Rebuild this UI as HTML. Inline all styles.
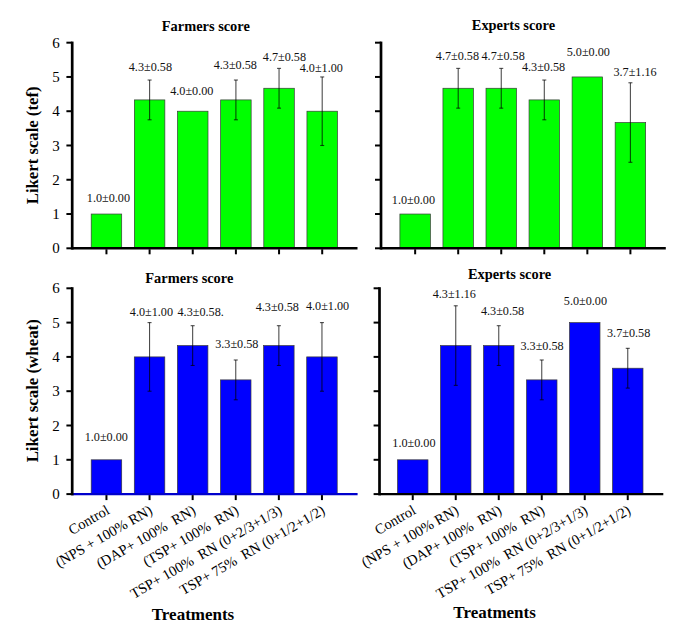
<!DOCTYPE html>
<html><head><meta charset="utf-8"><style>
html,body{margin:0;padding:0;background:#fff;}
svg{display:block;font-family:"Liberation Serif",serif;}
</style></head><body>
<svg width="685" height="635" viewBox="0 0 685 635">
<rect width="685" height="635" fill="#fff"/>
<rect x="91.20" y="214.03" width="30.5" height="34.27" fill="#00ff00" stroke="#3a3a3a" stroke-width="0.7"/>
<rect x="134.35" y="99.91" width="30.5" height="148.39" fill="#00ff00" stroke="#3a3a3a" stroke-width="0.7"/>
<rect x="177.50" y="111.22" width="30.5" height="137.08" fill="#00ff00" stroke="#3a3a3a" stroke-width="0.7"/>
<rect x="220.65" y="99.91" width="30.5" height="148.39" fill="#00ff00" stroke="#3a3a3a" stroke-width="0.7"/>
<rect x="263.80" y="88.26" width="30.5" height="160.04" fill="#00ff00" stroke="#3a3a3a" stroke-width="0.7"/>
<rect x="306.95" y="111.22" width="30.5" height="137.08" fill="#00ff00" stroke="#3a3a3a" stroke-width="0.7"/>
<line x1="149.60" y1="80.03" x2="149.60" y2="119.79" stroke="#000" stroke-opacity="0.7" stroke-width="1.1"/>
<line x1="147.60" y1="80.03" x2="151.60" y2="80.03" stroke="#000" stroke-opacity="0.7" stroke-width="1.1"/>
<line x1="147.60" y1="119.79" x2="151.60" y2="119.79" stroke="#000" stroke-opacity="0.7" stroke-width="1.1"/>
<line x1="235.90" y1="80.03" x2="235.90" y2="119.79" stroke="#000" stroke-opacity="0.7" stroke-width="1.1"/>
<line x1="233.90" y1="80.03" x2="237.90" y2="80.03" stroke="#000" stroke-opacity="0.7" stroke-width="1.1"/>
<line x1="233.90" y1="119.79" x2="237.90" y2="119.79" stroke="#000" stroke-opacity="0.7" stroke-width="1.1"/>
<line x1="279.05" y1="68.38" x2="279.05" y2="108.14" stroke="#000" stroke-opacity="0.7" stroke-width="1.1"/>
<line x1="277.05" y1="68.38" x2="281.05" y2="68.38" stroke="#000" stroke-opacity="0.7" stroke-width="1.1"/>
<line x1="277.05" y1="108.14" x2="281.05" y2="108.14" stroke="#000" stroke-opacity="0.7" stroke-width="1.1"/>
<line x1="322.20" y1="76.95" x2="322.20" y2="145.49" stroke="#000" stroke-opacity="0.7" stroke-width="1.1"/>
<line x1="320.20" y1="76.95" x2="324.20" y2="76.95" stroke="#000" stroke-opacity="0.7" stroke-width="1.1"/>
<line x1="320.20" y1="145.49" x2="324.20" y2="145.49" stroke="#000" stroke-opacity="0.7" stroke-width="1.1"/>
<line x1="72.20" y1="248.30" x2="357.5" y2="248.30" stroke="#000" stroke-width="2.4"/>
<line x1="72.2" y1="41.58" x2="72.2" y2="249.60" stroke="#000" stroke-width="2.7"/>
<line x1="66.40" y1="248.30" x2="72.2" y2="248.30" stroke="#000" stroke-width="2"/>
<text x="59.8" y="253.40" text-anchor="end" font-size="15">0</text>
<line x1="66.40" y1="214.03" x2="72.2" y2="214.03" stroke="#000" stroke-width="2"/>
<text x="59.8" y="219.13" text-anchor="end" font-size="15">1</text>
<line x1="66.40" y1="179.76" x2="72.2" y2="179.76" stroke="#000" stroke-width="2"/>
<text x="59.8" y="184.86" text-anchor="end" font-size="15">2</text>
<line x1="66.40" y1="145.49" x2="72.2" y2="145.49" stroke="#000" stroke-width="2"/>
<text x="59.8" y="150.59" text-anchor="end" font-size="15">3</text>
<line x1="66.40" y1="111.22" x2="72.2" y2="111.22" stroke="#000" stroke-width="2"/>
<text x="59.8" y="116.32" text-anchor="end" font-size="15">4</text>
<line x1="66.40" y1="76.95" x2="72.2" y2="76.95" stroke="#000" stroke-width="2"/>
<text x="59.8" y="82.05" text-anchor="end" font-size="15">5</text>
<line x1="66.40" y1="42.68" x2="72.2" y2="42.68" stroke="#000" stroke-width="2"/>
<text x="59.8" y="47.78" text-anchor="end" font-size="15">6</text>
<line x1="106.45" y1="249.30" x2="106.45" y2="254.30" stroke="#000" stroke-width="2"/>
<line x1="149.60" y1="249.30" x2="149.60" y2="254.30" stroke="#000" stroke-width="2"/>
<line x1="192.75" y1="249.30" x2="192.75" y2="254.30" stroke="#000" stroke-width="2"/>
<line x1="235.90" y1="249.30" x2="235.90" y2="254.30" stroke="#000" stroke-width="2"/>
<line x1="279.05" y1="249.30" x2="279.05" y2="254.30" stroke="#000" stroke-width="2"/>
<line x1="322.20" y1="249.30" x2="322.20" y2="254.30" stroke="#000" stroke-width="2"/>
<text x="86.80" y="201.80" font-size="12.2" fill="#111">1.0±0.00</text>
<text x="128.75" y="71.40" font-size="12.2" fill="#111">4.3±0.58</text>
<text x="170.20" y="94.70" font-size="12.2" fill="#111">4.0±0.00</text>
<text x="213.70" y="69.00" font-size="12.2" fill="#111">4.3±0.58</text>
<text x="262.80" y="60.50" font-size="12.2" fill="#111">4.7±0.58</text>
<text x="299.70" y="72.00" font-size="12.2" fill="#111">4.0±1.00</text>
<rect x="399.90" y="214.03" width="30.5" height="34.27" fill="#00ff00" stroke="#3a3a3a" stroke-width="0.7"/>
<rect x="442.95" y="88.26" width="30.5" height="160.04" fill="#00ff00" stroke="#3a3a3a" stroke-width="0.7"/>
<rect x="486.00" y="88.26" width="30.5" height="160.04" fill="#00ff00" stroke="#3a3a3a" stroke-width="0.7"/>
<rect x="529.05" y="99.91" width="30.5" height="148.39" fill="#00ff00" stroke="#3a3a3a" stroke-width="0.7"/>
<rect x="572.10" y="76.95" width="30.5" height="171.35" fill="#00ff00" stroke="#3a3a3a" stroke-width="0.7"/>
<rect x="615.15" y="122.53" width="30.5" height="125.77" fill="#00ff00" stroke="#3a3a3a" stroke-width="0.7"/>
<line x1="458.20" y1="68.38" x2="458.20" y2="108.14" stroke="#000" stroke-opacity="0.7" stroke-width="1.1"/>
<line x1="456.20" y1="68.38" x2="460.20" y2="68.38" stroke="#000" stroke-opacity="0.7" stroke-width="1.1"/>
<line x1="456.20" y1="108.14" x2="460.20" y2="108.14" stroke="#000" stroke-opacity="0.7" stroke-width="1.1"/>
<line x1="501.25" y1="68.38" x2="501.25" y2="108.14" stroke="#000" stroke-opacity="0.7" stroke-width="1.1"/>
<line x1="499.25" y1="68.38" x2="503.25" y2="68.38" stroke="#000" stroke-opacity="0.7" stroke-width="1.1"/>
<line x1="499.25" y1="108.14" x2="503.25" y2="108.14" stroke="#000" stroke-opacity="0.7" stroke-width="1.1"/>
<line x1="544.30" y1="80.03" x2="544.30" y2="119.79" stroke="#000" stroke-opacity="0.7" stroke-width="1.1"/>
<line x1="542.30" y1="80.03" x2="546.30" y2="80.03" stroke="#000" stroke-opacity="0.7" stroke-width="1.1"/>
<line x1="542.30" y1="119.79" x2="546.30" y2="119.79" stroke="#000" stroke-opacity="0.7" stroke-width="1.1"/>
<line x1="630.40" y1="82.78" x2="630.40" y2="162.28" stroke="#000" stroke-opacity="0.7" stroke-width="1.1"/>
<line x1="628.40" y1="82.78" x2="632.40" y2="82.78" stroke="#000" stroke-opacity="0.7" stroke-width="1.1"/>
<line x1="628.40" y1="162.28" x2="632.40" y2="162.28" stroke="#000" stroke-opacity="0.7" stroke-width="1.1"/>
<line x1="381.00" y1="248.30" x2="665.8" y2="248.30" stroke="#000" stroke-width="2.4"/>
<line x1="381.0" y1="41.58" x2="381.0" y2="249.60" stroke="#000" stroke-width="2.7"/>
<line x1="375.00" y1="248.30" x2="381.0" y2="248.30" stroke="#000" stroke-width="2"/>
<line x1="375.00" y1="214.03" x2="381.0" y2="214.03" stroke="#000" stroke-width="2"/>
<line x1="375.00" y1="179.76" x2="381.0" y2="179.76" stroke="#000" stroke-width="2"/>
<line x1="375.00" y1="145.49" x2="381.0" y2="145.49" stroke="#000" stroke-width="2"/>
<line x1="375.00" y1="111.22" x2="381.0" y2="111.22" stroke="#000" stroke-width="2"/>
<line x1="375.00" y1="76.95" x2="381.0" y2="76.95" stroke="#000" stroke-width="2"/>
<line x1="375.00" y1="42.68" x2="381.0" y2="42.68" stroke="#000" stroke-width="2"/>
<line x1="415.15" y1="249.30" x2="415.15" y2="254.30" stroke="#000" stroke-width="2"/>
<line x1="458.20" y1="249.30" x2="458.20" y2="254.30" stroke="#000" stroke-width="2"/>
<line x1="501.25" y1="249.30" x2="501.25" y2="254.30" stroke="#000" stroke-width="2"/>
<line x1="544.30" y1="249.30" x2="544.30" y2="254.30" stroke="#000" stroke-width="2"/>
<line x1="587.35" y1="249.30" x2="587.35" y2="254.30" stroke="#000" stroke-width="2"/>
<line x1="630.40" y1="249.30" x2="630.40" y2="254.30" stroke="#000" stroke-width="2"/>
<text x="391.80" y="204.40" font-size="12.2" fill="#111">1.0±0.00</text>
<text x="435.80" y="60.40" font-size="12.2" fill="#111">4.7±0.58</text>
<text x="481.50" y="60.40" font-size="12.2" fill="#111">4.7±0.58</text>
<text x="521.90" y="70.70" font-size="12.2" fill="#111">4.3±0.58</text>
<text x="566.70" y="56.40" font-size="12.2" fill="#111">5.0±0.00</text>
<text x="613.40" y="75.80" font-size="12.2" fill="#111">3.7±1.16</text>
<rect x="91.20" y="459.80" width="30.5" height="34.30" fill="#0000ff" stroke="#3a3a3a" stroke-width="0.7"/>
<rect x="134.30" y="356.90" width="30.5" height="137.20" fill="#0000ff" stroke="#3a3a3a" stroke-width="0.7"/>
<rect x="177.40" y="345.58" width="30.5" height="148.52" fill="#0000ff" stroke="#3a3a3a" stroke-width="0.7"/>
<rect x="220.50" y="379.88" width="30.5" height="114.22" fill="#0000ff" stroke="#3a3a3a" stroke-width="0.7"/>
<rect x="263.60" y="345.58" width="30.5" height="148.52" fill="#0000ff" stroke="#3a3a3a" stroke-width="0.7"/>
<rect x="306.70" y="356.90" width="30.5" height="137.20" fill="#0000ff" stroke="#3a3a3a" stroke-width="0.7"/>
<line x1="149.55" y1="322.60" x2="149.55" y2="391.20" stroke="#000" stroke-opacity="0.7" stroke-width="1.1"/>
<line x1="147.55" y1="322.60" x2="151.55" y2="322.60" stroke="#000" stroke-opacity="0.7" stroke-width="1.1"/>
<line x1="147.55" y1="391.20" x2="151.55" y2="391.20" stroke="#000" stroke-opacity="0.7" stroke-width="1.1"/>
<line x1="192.65" y1="325.69" x2="192.65" y2="365.48" stroke="#000" stroke-opacity="0.7" stroke-width="1.1"/>
<line x1="190.65" y1="325.69" x2="194.65" y2="325.69" stroke="#000" stroke-opacity="0.7" stroke-width="1.1"/>
<line x1="190.65" y1="365.48" x2="194.65" y2="365.48" stroke="#000" stroke-opacity="0.7" stroke-width="1.1"/>
<line x1="235.75" y1="359.99" x2="235.75" y2="399.78" stroke="#000" stroke-opacity="0.7" stroke-width="1.1"/>
<line x1="233.75" y1="359.99" x2="237.75" y2="359.99" stroke="#000" stroke-opacity="0.7" stroke-width="1.1"/>
<line x1="233.75" y1="399.78" x2="237.75" y2="399.78" stroke="#000" stroke-opacity="0.7" stroke-width="1.1"/>
<line x1="278.85" y1="325.69" x2="278.85" y2="365.48" stroke="#000" stroke-opacity="0.7" stroke-width="1.1"/>
<line x1="276.85" y1="325.69" x2="280.85" y2="325.69" stroke="#000" stroke-opacity="0.7" stroke-width="1.1"/>
<line x1="276.85" y1="365.48" x2="280.85" y2="365.48" stroke="#000" stroke-opacity="0.7" stroke-width="1.1"/>
<line x1="321.95" y1="322.60" x2="321.95" y2="391.20" stroke="#000" stroke-opacity="0.7" stroke-width="1.1"/>
<line x1="319.95" y1="322.60" x2="323.95" y2="322.60" stroke="#000" stroke-opacity="0.7" stroke-width="1.1"/>
<line x1="319.95" y1="391.20" x2="323.95" y2="391.20" stroke="#000" stroke-opacity="0.7" stroke-width="1.1"/>
<line x1="72.20" y1="494.10" x2="357.6" y2="494.10" stroke="#0000cc" stroke-width="2.4"/>
<line x1="72.2" y1="287.20" x2="72.2" y2="495.40" stroke="#000" stroke-width="2.7"/>
<line x1="66.40" y1="494.10" x2="72.2" y2="494.10" stroke="#000" stroke-width="2"/>
<text x="59.8" y="499.20" text-anchor="end" font-size="15">0</text>
<line x1="66.40" y1="459.80" x2="72.2" y2="459.80" stroke="#000" stroke-width="2"/>
<text x="59.8" y="464.90" text-anchor="end" font-size="15">1</text>
<line x1="66.40" y1="425.50" x2="72.2" y2="425.50" stroke="#000" stroke-width="2"/>
<text x="59.8" y="430.60" text-anchor="end" font-size="15">2</text>
<line x1="66.40" y1="391.20" x2="72.2" y2="391.20" stroke="#000" stroke-width="2"/>
<text x="59.8" y="396.30" text-anchor="end" font-size="15">3</text>
<line x1="66.40" y1="356.90" x2="72.2" y2="356.90" stroke="#000" stroke-width="2"/>
<text x="59.8" y="362.00" text-anchor="end" font-size="15">4</text>
<line x1="66.40" y1="322.60" x2="72.2" y2="322.60" stroke="#000" stroke-width="2"/>
<text x="59.8" y="327.70" text-anchor="end" font-size="15">5</text>
<line x1="66.40" y1="288.30" x2="72.2" y2="288.30" stroke="#000" stroke-width="2"/>
<text x="59.8" y="293.40" text-anchor="end" font-size="15">6</text>
<line x1="106.45" y1="495.10" x2="106.45" y2="500.10" stroke="#000" stroke-width="2"/>
<line x1="149.55" y1="495.10" x2="149.55" y2="500.10" stroke="#000" stroke-width="2"/>
<line x1="192.65" y1="495.10" x2="192.65" y2="500.10" stroke="#000" stroke-width="2"/>
<line x1="235.75" y1="495.10" x2="235.75" y2="500.10" stroke="#000" stroke-width="2"/>
<line x1="278.85" y1="495.10" x2="278.85" y2="500.10" stroke="#000" stroke-width="2"/>
<line x1="321.95" y1="495.10" x2="321.95" y2="500.10" stroke="#000" stroke-width="2"/>
<text x="84.70" y="441.10" font-size="12.2" fill="#111">1.0±0.00</text>
<text x="129.80" y="315.80" font-size="12.2" fill="#111">4.0±1.00</text>
<text x="177.50" y="315.80" font-size="12.2" fill="#111">4.3±0.58.</text>
<text x="215.20" y="348.00" font-size="12.2" fill="#111">3.3±0.58</text>
<text x="255.70" y="311.40" font-size="12.2" fill="#111">4.3±0.58</text>
<text x="305.90" y="309.50" font-size="12.2" fill="#111">4.0±1.00</text>
<text transform="translate(110.45,513) rotate(-30)" text-anchor="end" font-size="14.5" xml:space="preserve">Control</text>
<text transform="translate(153.55,513) rotate(-30)" text-anchor="end" font-size="14.5" xml:space="preserve">(NPS + 100% RN)</text>
<text transform="translate(196.65,513) rotate(-30)" text-anchor="end" font-size="14.5" xml:space="preserve">(DAP+ 100%  RN)</text>
<text transform="translate(239.75,513) rotate(-30)" text-anchor="end" font-size="14.5" xml:space="preserve">(TSP+ 100%  RN)</text>
<text transform="translate(282.85,513) rotate(-30)" text-anchor="end" font-size="14.5" xml:space="preserve">TSP+ 100%  RN (0+2/3+1/3)</text>
<text transform="translate(325.95,513) rotate(-30)" text-anchor="end" font-size="14.5" xml:space="preserve">TSP+ 75%  RN (0+1/2+1/2)</text>
<rect x="397.50" y="459.80" width="30.5" height="34.30" fill="#0000ff" stroke="#3a3a3a" stroke-width="0.7"/>
<rect x="440.50" y="345.58" width="30.5" height="148.52" fill="#0000ff" stroke="#3a3a3a" stroke-width="0.7"/>
<rect x="483.50" y="345.58" width="30.5" height="148.52" fill="#0000ff" stroke="#3a3a3a" stroke-width="0.7"/>
<rect x="526.50" y="379.88" width="30.5" height="114.22" fill="#0000ff" stroke="#3a3a3a" stroke-width="0.7"/>
<rect x="569.50" y="322.60" width="30.5" height="171.50" fill="#0000ff" stroke="#3a3a3a" stroke-width="0.7"/>
<rect x="612.50" y="368.22" width="30.5" height="125.88" fill="#0000ff" stroke="#3a3a3a" stroke-width="0.7"/>
<line x1="455.75" y1="305.79" x2="455.75" y2="385.37" stroke="#000" stroke-opacity="0.7" stroke-width="1.1"/>
<line x1="453.75" y1="305.79" x2="457.75" y2="305.79" stroke="#000" stroke-opacity="0.7" stroke-width="1.1"/>
<line x1="453.75" y1="385.37" x2="457.75" y2="385.37" stroke="#000" stroke-opacity="0.7" stroke-width="1.1"/>
<line x1="498.75" y1="325.69" x2="498.75" y2="365.48" stroke="#000" stroke-opacity="0.7" stroke-width="1.1"/>
<line x1="496.75" y1="325.69" x2="500.75" y2="325.69" stroke="#000" stroke-opacity="0.7" stroke-width="1.1"/>
<line x1="496.75" y1="365.48" x2="500.75" y2="365.48" stroke="#000" stroke-opacity="0.7" stroke-width="1.1"/>
<line x1="541.75" y1="359.99" x2="541.75" y2="399.78" stroke="#000" stroke-opacity="0.7" stroke-width="1.1"/>
<line x1="539.75" y1="359.99" x2="543.75" y2="359.99" stroke="#000" stroke-opacity="0.7" stroke-width="1.1"/>
<line x1="539.75" y1="399.78" x2="543.75" y2="399.78" stroke="#000" stroke-opacity="0.7" stroke-width="1.1"/>
<line x1="627.75" y1="348.33" x2="627.75" y2="388.11" stroke="#000" stroke-opacity="0.7" stroke-width="1.1"/>
<line x1="625.75" y1="348.33" x2="629.75" y2="348.33" stroke="#000" stroke-opacity="0.7" stroke-width="1.1"/>
<line x1="625.75" y1="388.11" x2="629.75" y2="388.11" stroke="#000" stroke-opacity="0.7" stroke-width="1.1"/>
<line x1="379.50" y1="494.10" x2="663.3" y2="494.10" stroke="#000" stroke-width="2.4"/>
<line x1="379.5" y1="287.20" x2="379.5" y2="495.40" stroke="#000" stroke-width="2.7"/>
<line x1="373.60" y1="494.10" x2="379.5" y2="494.10" stroke="#000" stroke-width="2"/>
<line x1="373.60" y1="459.80" x2="379.5" y2="459.80" stroke="#000" stroke-width="2"/>
<line x1="373.60" y1="425.50" x2="379.5" y2="425.50" stroke="#000" stroke-width="2"/>
<line x1="373.60" y1="391.20" x2="379.5" y2="391.20" stroke="#000" stroke-width="2"/>
<line x1="373.60" y1="356.90" x2="379.5" y2="356.90" stroke="#000" stroke-width="2"/>
<line x1="373.60" y1="322.60" x2="379.5" y2="322.60" stroke="#000" stroke-width="2"/>
<line x1="373.60" y1="288.30" x2="379.5" y2="288.30" stroke="#000" stroke-width="2"/>
<line x1="412.75" y1="495.10" x2="412.75" y2="500.10" stroke="#000" stroke-width="2"/>
<line x1="455.75" y1="495.10" x2="455.75" y2="500.10" stroke="#000" stroke-width="2"/>
<line x1="498.75" y1="495.10" x2="498.75" y2="500.10" stroke="#000" stroke-width="2"/>
<line x1="541.75" y1="495.10" x2="541.75" y2="500.10" stroke="#000" stroke-width="2"/>
<line x1="584.75" y1="495.10" x2="584.75" y2="500.10" stroke="#000" stroke-width="2"/>
<line x1="627.75" y1="495.10" x2="627.75" y2="500.10" stroke="#000" stroke-width="2"/>
<text x="392.30" y="446.70" font-size="12.2" fill="#111">1.0±0.00</text>
<text x="432.70" y="297.80" font-size="12.2" fill="#111">4.3±1.16</text>
<text x="480.90" y="314.90" font-size="12.2" fill="#111">4.3±0.58</text>
<text x="520.40" y="349.90" font-size="12.2" fill="#111">3.3±0.58</text>
<text x="563.80" y="305.30" font-size="12.2" fill="#111">5.0±0.00</text>
<text x="607.00" y="336.70" font-size="12.2" fill="#111">3.7±0.58</text>
<text transform="translate(416.75,513) rotate(-30)" text-anchor="end" font-size="14.5" xml:space="preserve">Control</text>
<text transform="translate(459.75,513) rotate(-30)" text-anchor="end" font-size="14.5" xml:space="preserve">(NPS + 100% RN)</text>
<text transform="translate(502.75,513) rotate(-30)" text-anchor="end" font-size="14.5" xml:space="preserve">(DAP+ 100%  RN)</text>
<text transform="translate(545.75,513) rotate(-30)" text-anchor="end" font-size="14.5" xml:space="preserve">(TSP+ 100%  RN)</text>
<text transform="translate(588.75,513) rotate(-30)" text-anchor="end" font-size="14.5" xml:space="preserve">TSP+ 100%  RN (0+2/3+1/3)</text>
<text transform="translate(631.75,513) rotate(-30)" text-anchor="end" font-size="14.5" xml:space="preserve">TSP+ 75%  RN (0+1/2+1/2)</text>
<text x="161.80" y="31.2" font-size="14.4" font-weight="bold">Farmers score</text>
<text x="471.80" y="29.9" font-size="14.4" font-weight="bold">Experts score</text>
<text x="145.30" y="282.7" font-size="14.4" font-weight="bold">Farmers score</text>
<text x="467.90" y="279.2" font-size="14.4" font-weight="bold">Experts score</text>
<text transform="translate(38.2,145.35) rotate(-90)" text-anchor="middle" font-size="16.7" font-weight="bold">Likert scale (tef)</text>
<text transform="translate(38.2,390.8) rotate(-90)" text-anchor="middle" font-size="16.85" font-weight="bold">Likert scale (wheat)</text>
<text x="193" y="619.9" text-anchor="middle" font-size="17" font-weight="bold">Treatments</text>
<text x="494.6" y="617.5" text-anchor="middle" font-size="17" font-weight="bold">Treatments</text>
</svg>
</body></html>
